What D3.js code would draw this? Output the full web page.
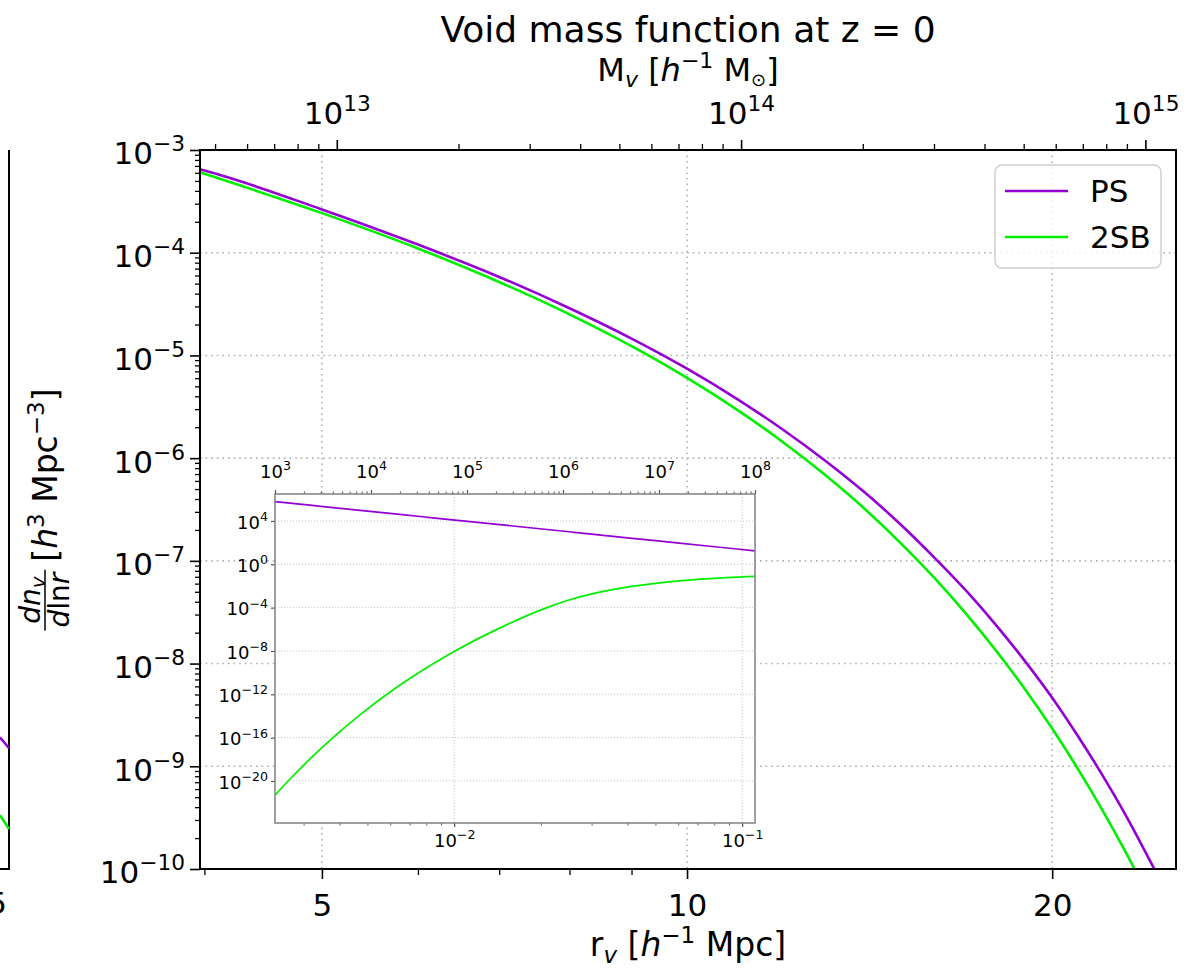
<!DOCTYPE html>
<html><head><meta charset="utf-8">
<script src="https://cdn.jsdelivr.net/npm/d3@7"></script>
<style>
html,body{margin:0;padding:0;background:#fff;}
svg{display:block;font-family:"DejaVu Sans",sans-serif;}
</style></head>
<body>
<svg id="chart" width="1202" height="973"></svg>
<script>
// ---------------- data ----------------
// main panel: void radius r_v [h^-1 Mpc] and dn_v/dlnr [h^3 Mpc^-3]
const radius = [3.97, 4, 5, 6, 7, 8, 9, 10, 11, 12, 13, 14, 15, 16, 17, 18, 19, 20, 21, 22, 23, 24, 24.5];
const psMain = [6.46e-4, 6.31e-4, 2.64e-4, 1.20e-4, 5.81e-5, 2.88e-5, 1.46e-5, 7.43e-6, 3.76e-6, 1.89e-6, 9.44e-7,
                4.67e-7, 2.26e-7, 1.07e-7, 5.06e-8, 2.33e-8, 1.05e-8, 4.65e-9, 1.97e-9, 8.20e-10, 3.33e-10, 1.30e-10, 8.13e-11];
const sbMain = [6.03e-4, 5.86e-4, 2.43e-4, 1.10e-4, 5.18e-5, 2.51e-5, 1.23e-5, 6.04e-6, 2.95e-6, 1.43e-6, 6.84e-7,
                3.23e-7, 1.49e-7, 6.78e-8, 3.01e-8, 1.31e-8, 5.60e-9, 2.33e-9, 9.44e-10, 3.75e-10, 1.45e-10, 5.48e-11, 3.33e-11];
// inset panel
const insetRadius = [2.387e-3, 2.691e-3, 3.157e-3, 3.794e-3, 4.709e-3, 6.228e-3, 7.917e-3, 1.0065e-2,
                     1.442e-2, 2.100e-2, 2.606e-2, 3.233e-2, 4.077e-2, 5.099e-2, 7.427e-2, 0.1108];
const psInset = [6.17e5, 4.45e5, 2.87e5, 1.74e5, 9.64e4, 4.49e4, 2.33e4, 1.21e4,
                 4.54e3, 1.63e3, 9.04e2, 5.01e2, 2.66e2, 1.45e2, 51.8, 17.4];
const sbInset = [4.90e-22, 1.51e-20, 1.07e-18, 1.0e-16, 1.26e-14, 3.39e-12, 2.29e-10, 1.0e-8,
                 1.35e-6, 1.0e-4, 6.92e-4, 2.82e-3, 8.71e-3, 1.86e-2, 4.47e-2, 7.76e-2];
// sliver of the neighbouring panel visible at the left edge
const leftPanelX = [0, 1];
const leftPanelPS = [1.92e-9, 1.50e-9];
const leftPanelSB = [3.35e-10, 2.45e-10];

// series / labels
const seriesNames = ["PS", "2SB"];
const seriesColors = ["#9400d3", "#00f000"];
const title = "Void mass function at z = 0";
// tick values
const bottomMajor = [5, 10, 20];
const bottomMinor = [4, 6, 7, 8, 9];
const yDecades = [-10, -9, -8, -7, -6, -5, -4, -3];
const topDecades = [13, 14, 15];
const insetBottomDecades = [-2, -1];
const insetTopDecades = [3, 4, 5, 6, 7, 8];
const insetYDecades = [4, 0, -4, -8, -12, -16, -20];
// axis limits
const rLimits = [3.967, 25.3];
const nLimits = [1e-10, 1e-3];
const massConst = 7.35e10;           // M_v = massConst * r_v^3
const insetRLimits = [2.387e-3, 0.1108];
const insetMLimits = [1e3, 1e8];
const insetYLimits = [Math.pow(10, -23.88), Math.pow(10, 6.49)];

// ---------------- helpers ----------------
const svg = d3.select('#chart');
const fmtExp = e => (e < 0 ? "\u2212" + Math.abs(e) : String(e));
function sup(sel, base, exp, size) {
  sel.text(null);
  sel.append('tspan').text(base);
  sel.append('tspan').attr('dy', -0.42 * size).attr('font-size', 0.7 * size).text(exp);
}
function minorOf(decs) {
  const out = [];
  decs.forEach(d => { for (let k = 2; k <= 9; k++) out.push(k * Math.pow(10, d)); });
  return out;
}
function styleAxis(g, color, width) {
  g.select('.domain').remove();
  g.attr('font-size', null).attr('font-family', null);
  g.selectAll('line').attr('stroke', color).attr('stroke-width', width);
  g.selectAll('text').attr('fill', '#000');
}

// ---------------- main axes ----------------
const M = {left: 200, right: 1176, top: 150, bottom: 869};
const x = d3.scaleLog().domain(rLimits).range([M.left, M.right]);
const xTop = d3.scaleLog().domain(rLimits.map(r => massConst * r * r * r)).range([M.left, M.right]);
const y = d3.scaleLog().domain(nLimits).range([M.bottom, M.top]);

// left sliver of neighbouring panel
const lx = d3.scaleLinear().domain([0, 1]).range([0, 9]);
svg.append('line').attr('x1', 9).attr('x2', 9).attr('y1', M.top).attr('y2', M.bottom).attr('stroke', '#000').attr('stroke-width', 2);
svg.append('line').attr('x1', 0).attr('x2', 10).attr('y1', M.bottom).attr('y2', M.bottom).attr('stroke', '#000').attr('stroke-width', 2);
const lline = d3.line().x((d, i) => lx(leftPanelX[i])).y(d => y(d));
svg.append('path').attr('d', lline(leftPanelPS)).attr('fill', 'none').attr('stroke', seriesColors[0]).attr('stroke-width', 2.5);
svg.append('path').attr('d', lline(leftPanelSB)).attr('fill', 'none').attr('stroke', seriesColors[1]).attr('stroke-width', 2.5);
svg.append('text').attr('x', -3).attr('y', 914).attr('text-anchor', 'middle').attr('font-size', 31).text('5');

// grid
const grid = svg.append('g');
grid.selectAll('.hg').data(yDecades.slice(1, -1)).enter().append('line')
  .attr('x1', M.left).attr('x2', M.right)
  .attr('y1', d => y(Math.pow(10, d))).attr('y2', d => y(Math.pow(10, d)))
  .attr('stroke', '#b0b0b0').attr('stroke-width', 1.6).attr('stroke-dasharray', '1.6,4');
grid.selectAll('.vg').data(bottomMajor).enter().append('line')
  .attr('y1', M.top).attr('y2', M.bottom)
  .attr('x1', d => x(d)).attr('x2', d => x(d))
  .attr('stroke', '#b0b0b0').attr('stroke-width', 1.6).attr('stroke-dasharray', '1.6,4');

// curves
svg.append('clipPath').attr('id', 'mainClip').append('rect')
  .attr('x', M.left).attr('y', M.top).attr('width', M.right - M.left).attr('height', M.bottom - M.top);
const mainLine = d3.line().x((d, i) => x(radius[i])).y(d => y(d)).curve(d3.curveMonotoneX);
const curves = svg.append('g').attr('clip-path', 'url(#mainClip)');
curves.append('path').attr('d', mainLine(psMain)).attr('fill', 'none').attr('stroke', seriesColors[0]).attr('stroke-width', 2.6);
curves.append('path').attr('d', mainLine(sbMain)).attr('fill', 'none').attr('stroke', seriesColors[1]).attr('stroke-width', 2.6);

// axes
const TICK = 31;
let g = svg.append('g').attr('transform', `translate(0,${M.bottom})`)
  .call(d3.axisBottom(x).tickValues(bottomMajor).tickSize(10).tickPadding(15).tickFormat(d3.format('d')));
styleAxis(g, '#000', 1.6); g.selectAll('text').attr('font-size', TICK);
g = svg.append('g').attr('transform', `translate(0,${M.bottom})`)
  .call(d3.axisBottom(x).tickValues(bottomMinor).tickSize(6).tickFormat(''));
styleAxis(g, '#000', 1.3);

g = svg.append('g').attr('transform', `translate(0,${M.top})`)
  .call(d3.axisTop(xTop).tickValues(topDecades.map(d => Math.pow(10, d))).tickSize(10).tickPadding(16));
styleAxis(g, '#000', 1.6);
g.selectAll('text').attr('font-size', TICK).each(function (d) { sup(d3.select(this), '10', fmtExp(Math.round(Math.log10(d))), TICK); });
g = svg.append('g').attr('transform', `translate(0,${M.top})`)
  .call(d3.axisTop(xTop).tickValues(minorOf([12, 13, 14]).filter(v => v > xTop.domain()[0] && v < xTop.domain()[1])).tickSize(6).tickFormat(''));
styleAxis(g, '#000', 1.3);

g = svg.append('g').attr('transform', `translate(${M.left},0)`)
  .call(d3.axisLeft(y).tickValues(yDecades.map(d => Math.pow(10, d))).tickSize(10).tickPadding(5));
styleAxis(g, '#000', 1.6);
g.selectAll('text').attr('font-size', TICK).attr('dy', '0.45em').each(function (d) { sup(d3.select(this), '10', fmtExp(Math.round(Math.log10(d))), TICK); });
g = svg.append('g').attr('transform', `translate(${M.left},0)`)
  .call(d3.axisLeft(y).tickValues(minorOf(yDecades.slice(0, -1))).tickSize(5).tickFormat(''));
styleAxis(g, '#000', 1.3);

// frame
svg.append('rect').attr('x', M.left).attr('y', M.top).attr('width', M.right - M.left).attr('height', M.bottom - M.top)
  .attr('fill', 'none').attr('stroke', '#000').attr('stroke-width', 2);

// title and labels
svg.append('text').attr('x', (M.left + M.right) / 2).attr('y', 42).attr('text-anchor', 'middle').attr('font-size', 36).text(title);

const topLab = svg.append('text').attr('x', (M.left + M.right) / 2).attr('y', 81).attr('text-anchor', 'middle').attr('font-size', 32);
topLab.append('tspan').text('M');
topLab.append('tspan').attr('font-size', 22).attr('font-style', 'italic').attr('dy', 6).text('v');
topLab.append('tspan').attr('dy', -6).text(' [');
topLab.append('tspan').attr('font-style', 'italic').text('h');
topLab.append('tspan').attr('font-size', 22).attr('dy', -13).text('\u22121');
topLab.append('tspan').attr('dy', 13).text(' M');
topLab.append('tspan').attr('font-size', 18).attr('dy', 5).text('\u2299');
topLab.append('tspan').attr('dy', -5).text(']');

const xLab = svg.append('text').attr('x', (M.left + M.right) / 2).attr('y', 956).attr('text-anchor', 'middle').attr('font-size', 33);
xLab.append('tspan').text('r');
xLab.append('tspan').attr('font-size', 23).attr('font-style', 'italic').attr('dy', 7).text('v');
xLab.append('tspan').attr('dy', -7).text(' [');
xLab.append('tspan').attr('font-style', 'italic').text('h');
xLab.append('tspan').attr('font-size', 23).attr('dy', -13).text('\u22121');
xLab.append('tspan').attr('dy', 13).text(' Mpc]');

// y label (rotated, with fraction)
const yl = svg.append('g').attr('transform', `translate(45,${(M.top + M.bottom) / 2}) rotate(-90)`);
const inner = yl.append('g');
const num = inner.append('text').attr('text-anchor', 'middle').attr('font-size', 28).attr('y', -5);
num.append('tspan').attr('font-style', 'italic').text('dn');
num.append('tspan').attr('font-style', 'italic').attr('font-size', 20).attr('dy', 5).text('v');
const den = inner.append('text').attr('text-anchor', 'middle').attr('font-size', 28).attr('y', 24);
den.append('tspan').attr('font-style', 'italic').text('d');
den.append('tspan').text('ln');
den.append('tspan').attr('font-style', 'italic').text('r');
const fracW = Math.max(den.node().getComputedTextLength(), num.node().getComputedTextLength()) + 6;
num.attr('x', fracW / 2); den.attr('x', fracW / 2);
inner.append('line').attr('x1', 0).attr('x2', fracW).attr('y1', 0).attr('y2', 0).attr('stroke', '#000').attr('stroke-width', 1.5);
const br = inner.append('text').attr('x', fracW + 8).attr('y', 12).attr('font-size', 33);
br.append('tspan').text('[');
br.append('tspan').attr('font-style', 'italic').text('h');
br.append('tspan').attr('font-size', 23).attr('dy', -13).text('3');
br.append('tspan').attr('dy', 13).text(' Mpc');
br.append('tspan').attr('font-size', 23).attr('dy', -13).text('\u22123');
br.append('tspan').attr('dy', 13).text(']');
const totW = fracW + 8 + br.node().getComputedTextLength();
inner.attr('transform', `translate(${-totW / 2},0)`);

// legend
const L = {x: 995, y: 165, w: 166, h: 103};
svg.append('rect').attr('x', L.x).attr('y', L.y).attr('width', L.w).attr('height', L.h).attr('rx', 7)
  .attr('fill', '#fff').attr('fill-opacity', 0.8).attr('stroke', '#d0d0d0').attr('stroke-width', 1.5);
seriesNames.forEach((nm, i) => {
  const yy = 191 + i * 46;
  svg.append('line').attr('x1', 1005).attr('x2', 1068).attr('y1', yy).attr('y2', yy).attr('stroke', seriesColors[i]).attr('stroke-width', 2.6);
  svg.append('text').attr('x', 1090).attr('y', yy + 11).attr('font-size', 31).text(nm);
});

// ---------------- inset ----------------
const IN = {left: 275, right: 755, top: 494, bottom: 823};
const ix = d3.scaleLog().domain(insetRLimits).range([IN.left, IN.right]);
const ixTop = d3.scaleLog().domain(insetMLimits).range([IN.left, IN.right]);
const iy = d3.scaleLog().domain(insetYLimits).range([IN.bottom, IN.top]);
svg.append('rect').attr('x', IN.left).attr('y', IN.top).attr('width', IN.right - IN.left).attr('height', IN.bottom - IN.top).attr('fill', '#fff');
const ig = svg.append('g');
ig.selectAll('.ihg').data(insetYDecades).enter().append('line')
  .attr('x1', IN.left).attr('x2', IN.right).attr('y1', d => iy(Math.pow(10, d))).attr('y2', d => iy(Math.pow(10, d)))
  .attr('stroke', '#c4c4c4').attr('stroke-width', 1).attr('stroke-dasharray', '1,2');
ig.selectAll('.ivg').data(insetBottomDecades).enter().append('line')
  .attr('y1', IN.top).attr('y2', IN.bottom).attr('x1', d => ix(Math.pow(10, d))).attr('x2', d => ix(Math.pow(10, d)))
  .attr('stroke', '#c4c4c4').attr('stroke-width', 1).attr('stroke-dasharray', '1,2');
svg.append('clipPath').attr('id', 'insetClip').append('rect')
  .attr('x', IN.left).attr('y', IN.top).attr('width', IN.right - IN.left).attr('height', IN.bottom - IN.top);
const insetLine = d3.line().x((d, i) => ix(insetRadius[i])).y(d => iy(d)).curve(d3.curveMonotoneX);
const ic = svg.append('g').attr('clip-path', 'url(#insetClip)');
ic.append('path').attr('d', insetLine(psInset)).attr('fill', 'none').attr('stroke', seriesColors[0]).attr('stroke-width', 1.7);
ic.append('path').attr('d', insetLine(sbInset)).attr('fill', 'none').attr('stroke', seriesColors[1]).attr('stroke-width', 1.7);

const ITICK = 18;
g = svg.append('g').attr('transform', `translate(0,${IN.bottom})`)
  .call(d3.axisBottom(ix).tickValues(insetBottomDecades.map(d => Math.pow(10, d))).tickSize(4).tickPadding(7));
styleAxis(g, '#555', 1.2);
g.selectAll('text').attr('font-size', ITICK).each(function (d) { sup(d3.select(this), '10', fmtExp(Math.round(Math.log10(d))), ITICK); });
g = svg.append('g').attr('transform', `translate(0,${IN.bottom})`)
  .call(d3.axisBottom(ix).tickValues(minorOf([-3, -2, -1]).filter(v => v > insetRLimits[0] && v < insetRLimits[1])).tickSize(2.5).tickFormat(''));
styleAxis(g, '#555', 1);

g = svg.append('g').attr('transform', `translate(0,${IN.top})`)
  .call(d3.axisTop(ixTop).tickValues(insetTopDecades.map(d => Math.pow(10, d))).tickSize(4).tickPadding(12));
styleAxis(g, '#555', 1.2);
g.selectAll('text').attr('font-size', ITICK).each(function (d) { sup(d3.select(this), '10', fmtExp(Math.round(Math.log10(d))), ITICK); });
g = svg.append('g').attr('transform', `translate(0,${IN.top})`)
  .call(d3.axisTop(ixTop).tickValues(minorOf([3, 4, 5, 6, 7])).tickSize(2.5).tickFormat(''));
styleAxis(g, '#555', 1);

g = svg.append('g').attr('transform', `translate(${IN.left},0)`)
  .call(d3.axisLeft(iy).tickValues(insetYDecades.map(d => Math.pow(10, d))).tickSize(4).tickPadding(3));
styleAxis(g, '#555', 1.2);
g.selectAll('text').attr('font-size', ITICK).attr('dy', '0.4em').each(function (d) { sup(d3.select(this), '10', fmtExp(Math.round(Math.log10(d))), ITICK); });

svg.append('rect').attr('x', IN.left).attr('y', IN.top).attr('width', IN.right - IN.left).attr('height', IN.bottom - IN.top)
  .attr('fill', 'none').attr('stroke', '#808080').attr('stroke-width', 1.5);
</script>
</body></html>
